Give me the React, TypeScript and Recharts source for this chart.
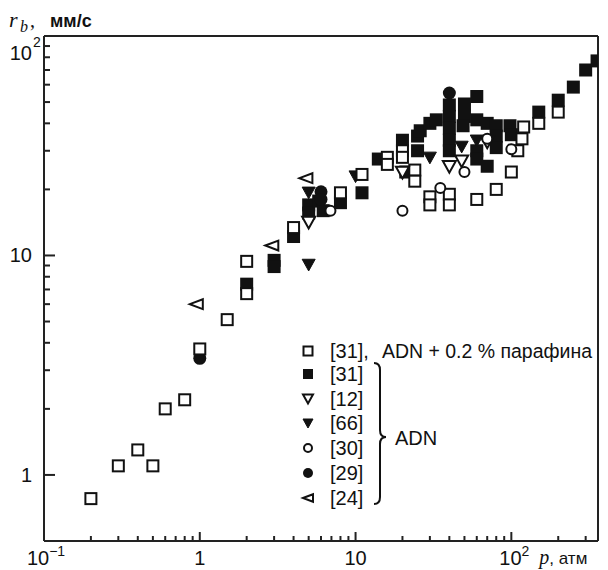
import { ScatterChart, Scatter, XAxis, YAxis, ReferenceLine } from "recharts";

// [31] ADN + 0.2% парафина (open squares)
const paraffin31 = [
  { p: 0.2, r: 0.78 }, { p: 0.3, r: 1.1 }, { p: 0.4, r: 1.3 }, { p: 0.5, r: 1.1 },
  { p: 0.6, r: 2.0 }, { p: 0.8, r: 2.2 }, { p: 1.0, r: 3.75 }, { p: 1.5, r: 5.1 },
  { p: 2.0, r: 9.4 }, { p: 2.0, r: 6.7 }, { p: 4.0, r: 13.4 }, { p: 8, r: 19.3 },
  { p: 11, r: 23.4 }, { p: 16, r: 28 }, { p: 16, r: 26 }, { p: 20, r: 30 },
  { p: 20, r: 28 }, { p: 24, r: 24.5 }, { p: 24, r: 21.8 }, { p: 30, r: 18.5 },
  { p: 30, r: 17 }, { p: 40, r: 19 }, { p: 40, r: 17 }, { p: 60, r: 18 },
  { p: 80, r: 20 }, { p: 100, r: 24 }, { p: 110, r: 30 }, { p: 117, r: 34 },
  { p: 120, r: 38.5 }, { p: 150, r: 40 }, { p: 200, r: 45 },
];

// [31] ADN (filled squares)
const adn31 = [
  { p: 2.0, r: 7.4 }, { p: 3.0, r: 9.5 }, { p: 3.0, r: 8.9 }, { p: 4.0, r: 12.2 },
  { p: 5, r: 17 }, { p: 5, r: 15.6 }, { p: 5.8, r: 17.7 }, { p: 6.2, r: 16 },
  { p: 8, r: 17.4 }, { p: 11, r: 19.3 }, { p: 14, r: 27.5 }, { p: 20, r: 33.5 },
  { p: 21, r: 24 }, { p: 25, r: 35 }, { p: 25, r: 30 }, { p: 26, r: 37 },
  { p: 30, r: 40 }, { p: 33, r: 41.5 }, { p: 40, r: 48.5 }, { p: 40, r: 43 },
  { p: 40, r: 38 }, { p: 40, r: 33.5 }, { p: 40, r: 30 }, { p: 50, r: 49 },
  { p: 50, r: 43 }, { p: 49, r: 39 }, { p: 60, r: 53 }, { p: 60, r: 41.5 },
  { p: 60, r: 30 }, { p: 60, r: 27.5 }, { p: 70, r: 40 }, { p: 70, r: 25.5 },
  { p: 80, r: 39 }, { p: 80, r: 35 }, { p: 80, r: 31 }, { p: 98, r: 39 },
  { p: 100, r: 35.5 }, { p: 150, r: 45 }, { p: 200, r: 51 }, { p: 250, r: 58.5 },
  { p: 300, r: 70 }, { p: 355, r: 77 },
];

// [12] open down triangles
const ref12 = [
  { p: 5, r: 14.2 }, { p: 20, r: 24 }, { p: 40, r: 25.5 }, { p: 48, r: 27 }, { p: 70, r: 33 },
];

// [66] filled down triangles
const ref66 = [
  { p: 5, r: 9.1 }, { p: 5, r: 19.4 }, { p: 10, r: 23 }, { p: 30, r: 28 },
  { p: 48, r: 31.4 }, { p: 60, r: 33.5 },
];

// [30] open circles
const ref30 = [
  { p: 6.9, r: 16 }, { p: 20, r: 16 }, { p: 35, r: 20.3 }, { p: 50, r: 24 },
  { p: 70, r: 34 }, { p: 100, r: 30.5 },
];

// [29] filled circles
const ref29 = [
  { p: 1.0, r: 3.4 }, { p: 6, r: 19.5 }, { p: 6, r: 18 }, { p: 40, r: 55 },
];

// [24] open left triangles
const ref24 = [
  { p: 0.95, r: 6.0 }, { p: 2.9, r: 11.1 }, { p: 4.8, r: 22.5 },
];

const xTicks = [0.1, 0.2, 0.3, 0.4, 0.5, 0.6, 0.7, 0.8, 0.9, 1, 2, 3, 4, 5, 6, 7, 8, 9,
  10, 20, 30, 40, 50, 60, 70, 80, 90, 100, 200, 300];
const yTicks = [1, 2, 3, 4, 5, 6, 7, 8, 9, 10, 20, 30, 40, 50, 60, 70, 80, 90, 100];
const xMajor = [1, 10, 100];
const yMajor = [1, 10];
const xMin = 0.1;
const xMax = 360;
const yMin = 0.5;
const yMax = 100;

// plot size in px per decade, used only to turn tick-mark lengths into log-axis units
const xDecadePx = 155.7;
const yDecadePx = 220;

const ink = "#111";
const axisColor = "#222";
const sans = "'Liberation Sans', Arial, sans-serif";
const serif = "'Liberation Serif', 'DejaVu Serif', serif";

const OpenSquare = ({ cx, cy, s = 11 }: any) => (
  <rect x={cx - s / 2} y={cy - s / 2} width={s} height={s} fill="#fff" stroke={ink} strokeWidth={2} />
);
const FilledSquare = ({ cx, cy, s = 13 }: any) => (
  <rect x={cx - s / 2} y={cy - s / 2} width={s} height={s} fill={ink} />
);
const DownTri = ({ cx, cy, s = 13, filled }: any) => (
  <path
    d={`M${cx - s / 2},${cy - s * 0.4} L${cx + s / 2},${cy - s * 0.4} L${cx},${cy + s * 0.5} Z`}
    fill={filled ? ink : "#fff"}
    stroke={ink}
    strokeWidth={filled ? 1 : 2}
  />
);
const OpenDown = (props: any) => <DownTri {...props} />;
const FilledDown = (props: any) => <DownTri {...props} filled />;
const OpenCircle = ({ cx, cy, s = 12 }: any) => (
  <circle cx={cx} cy={cy} r={s / 2 - 1} fill="#fff" stroke={ink} strokeWidth={2} />
);
const FilledCircle = ({ cx, cy, s = 13 }: any) => <circle cx={cx} cy={cy} r={s / 2} fill={ink} />;
const OpenLeft = ({ cx, cy, s = 13 }: any) => (
  <path
    d={`M${cx - s / 2},${cy} L${cx + s / 2},${cy - s * 0.38} L${cx + s / 2},${cy + s * 0.38} Z`}
    fill="#fff"
    stroke={ink}
    strokeWidth={2}
  />
);

// tick labels only; marks are drawn as short reference segments
const XTick = (props: any) => {
  const x = Number(props.x);
  const y = Number(props.y);
  const v = Number(props.payload?.value);
  if (v === 0.1) {
    return (
      <text x={x + 2} y={y + 24} textAnchor="middle" fontFamily={sans} fontSize={20} fill={ink}>
        10<tspan fontSize={14} dy={-9}>−1</tspan>
      </text>
    );
  }
  if (v === 1 || v === 10) {
    return (
      <text x={x} y={y + 24} textAnchor="middle" fontFamily={sans} fontSize={20} fill={ink}>
        {v}
      </text>
    );
  }
  if (v === 100) {
    return (
      <g>
        <text x={x + 3} y={y + 24} textAnchor="middle" fontFamily={sans} fontSize={20} fill={ink}>
          10<tspan fontSize={14} dy={-9}>2</tspan>
        </text>
        <text x={x + 28} y={y + 23} fontSize={20} fill={ink}>
          <tspan fontFamily={serif} fontStyle="italic">p</tspan>
          <tspan fontFamily={sans} fontSize={17}>, атм</tspan>
        </text>
      </g>
    );
  }
  return <g />;
};

const YTick = (props: any) => {
  const x = Number(props.x);
  const y = Number(props.y);
  const v = Number(props.payload?.value);
  if (v === 1 || v === 10) {
    return (
      <text x={x - 12} y={y + 7} textAnchor="end" fontFamily={sans} fontSize={20} fill={ink}>
        {v}
      </text>
    );
  }
  if (v === 100) {
    return (
      <g>
        <text x={x - 12} y={y + 24} textAnchor="end" fontFamily={sans} fontSize={20} fill={ink}>
          10
        </text>
        <text x={x - 11} y={y + 11} fontFamily={sans} fontSize={14} fill={ink}>
          2
        </text>
      </g>
    );
  }
  return <g />;
};

const legendRows = [
  { label: "[31]", shape: FilledSquare, s: 10 },
  { label: "[12]", shape: OpenDown, s: 10 },
  { label: "[66]", shape: FilledDown, s: 10 },
  { label: "[30]", shape: OpenCircle, s: 10 },
  { label: "[29]", shape: FilledCircle, s: 10 },
  { label: "[24]", shape: OpenLeft, s: 10 },
];

function Overlay() {
  const rowY = [351, 374, 398.5, 423, 448, 473, 498];
  return (
    <svg width={608} height={570} style={{ position: "absolute", left: 0, top: 0, pointerEvents: "none" }}>
      {/* axis title */}
      <text x={9} y={27} fontFamily={serif} fontStyle="italic" fontSize={22} fill={ink}>r</text>
      <text x={20} y={32} fontFamily={serif} fontStyle="italic" fontSize={16} fill={ink}>b</text>
      <text x={30} y={27} fontFamily={serif} fontSize={20} fill={ink}>,</text>
      <text x={50} y={27} fontFamily={sans} fontWeight="bold" fontSize={18} fill={ink}>мм/с</text>

      {/* legend */}
      <OpenSquare cx={308} cy={rowY[0]} s={9} />
      <text x={330} y={rowY[0] + 7} fontFamily={sans} fontSize={20} fill={ink}>[31],</text>
      <text x={382} y={rowY[0] + 7} fontFamily={sans} fontSize={20} fill={ink} textLength={210} lengthAdjust="spacingAndGlyphs">
        ADN + 0.2 % парафина
      </text>
      {legendRows.map((row, i) => {
        const Shape = row.shape;
        return (
          <g key={row.label + i}>
            <Shape cx={308} cy={rowY[i + 1]} s={row.s} />
            <text x={330} y={rowY[i + 1] + 7} fontFamily={sans} fontSize={20} fill={ink}>
              {row.label}
            </text>
          </g>
        );
      })}
      <path
        d="M374,363 Q380,363 380,370 L380,430 Q380,437 386,437 Q380,437 380,444 L380,497 Q380,504 374,504"
        fill="none"
        stroke={ink}
        strokeWidth={2}
      />
      <text x={395} y={445} fontFamily={sans} fontSize={20} fill={ink}>ADN</text>
    </svg>
  );
}

export default function App() {
  const xMarks = xTicks.filter((v) => v > xMin);
  const yMarks = yTicks.filter((v) => v < yMax);
  return (
    <div style={{ position: "absolute", left: 0, top: 0, width: 608, height: 570, background: "#fff" }}>
      <ScatterChart width={608} height={570} margin={{ top: 36, right: 10, bottom: 0, left: 4 }}>
        <XAxis
          dataKey="p"
          type="number"
          scale="log"
          domain={[xMin, xMax]}
          ticks={xTicks}
          interval={0}
          allowDataOverflow
          height={29}
          tickSize={0}
          tickMargin={0}
          tickLine={false}
          tick={(p: any) => <XTick {...p} />}
          axisLine={{ stroke: axisColor, strokeWidth: 2 }}
        />
        <YAxis
          dataKey="r"
          type="number"
          scale="log"
          domain={[yMin, yMax]}
          ticks={yTicks}
          interval={0}
          allowDataOverflow
          width={40}
          tickSize={0}
          tickMargin={0}
          tickLine={false}
          tick={(p: any) => <YTick {...p} />}
          axisLine={{ stroke: axisColor, strokeWidth: 2 }}
        />
        <ReferenceLine y={yMax} stroke={axisColor} strokeWidth={2} />
        <ReferenceLine x={xMax} stroke={axisColor} strokeWidth={2} />
        {xMarks.map((v) => (
          <ReferenceLine
            key={`xt-${v}`}
            segment={[
              { x: v, y: yMin },
              { x: v, y: yMin * Math.pow(10, (xMajor.includes(v) ? 9 : 5) / yDecadePx) },
            ]}
            stroke={axisColor}
            strokeWidth={2}
          />
        ))}
        {yMarks.map((v) => (
          <ReferenceLine
            key={`yt-${v}`}
            segment={[
              { x: xMin, y: v },
              { x: xMin * Math.pow(10, (yMajor.includes(v) ? 11 : 6) / xDecadePx), y: v },
            ]}
            stroke={axisColor}
            strokeWidth={2}
          />
        ))}
        <Scatter data={adn31} shape={FilledSquare} isAnimationActive={false} />
        <Scatter data={ref66} shape={FilledDown} isAnimationActive={false} />
        <Scatter data={ref29} shape={FilledCircle} isAnimationActive={false} />
        <Scatter data={paraffin31} shape={OpenSquare} isAnimationActive={false} />
        <Scatter data={ref12} shape={OpenDown} isAnimationActive={false} />
        <Scatter data={ref30} shape={OpenCircle} isAnimationActive={false} />
        <Scatter data={ref24} shape={OpenLeft} isAnimationActive={false} />
      </ScatterChart>
      <Overlay />
    </div>
  );
}
